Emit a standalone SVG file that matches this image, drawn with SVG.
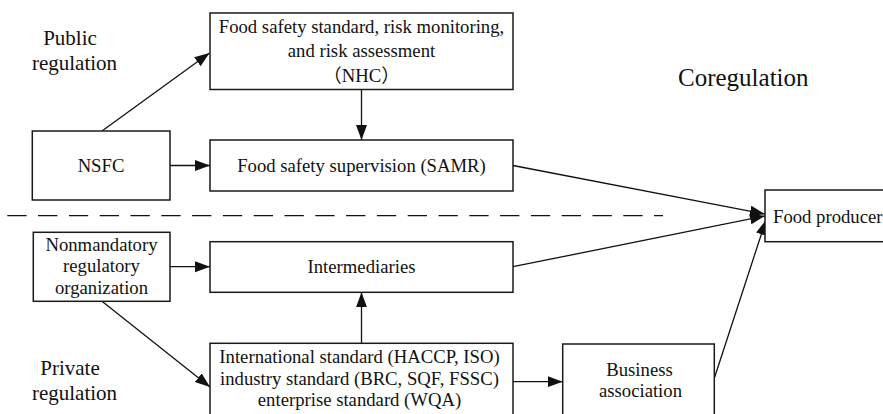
<svg xmlns="http://www.w3.org/2000/svg" width="883" height="414" viewBox="0 0 883 414">
<style>
  .box { fill: #ffffff; stroke: #1a1a1a; stroke-width: 1.5; }
  .t { font-size: 18.7px; fill: #111; text-anchor: middle; }
  .lbl { font-size: 21px; fill: #111; text-anchor: middle; }
  .co { font-size: 25px; fill: #111; }
  .edge { stroke: #111; stroke-width: 1.3; fill: none; marker-end: url(#arr); }
  .dash { stroke: #111; stroke-width: 1.3; fill: none; stroke-dasharray: 19.3 11.5; }
</style>
<defs>
  <marker id="arr" markerUnits="userSpaceOnUse" markerWidth="16" markerHeight="12" refX="15" refY="5.5" orient="auto">
    <path d="M0,0 L15,5.5 L0,11 z" fill="#111"/>
  </marker>
</defs>
<rect x="0" y="0" width="883" height="414" fill="#ffffff"/>

<g font-family="Liberation Serif, Times New Roman, DejaVu Serif, Noto Sans CJK SC, serif">
<g id="labels">
  <text class="lbl" x="70" y="45">Public</text>
  <text class="lbl" x="74.5" y="70">regulation</text>
  <text class="lbl" x="70" y="375">Private</text>
  <text class="lbl" x="74.5" y="400">regulation</text>
  <text class="co" x="678" y="86">Coregulation</text>
</g>

<line class="dash" x1="7.3" y1="215.7" x2="663" y2="215.7"/>

<g id="connectors">
  <line class="edge" x1="102.3" y1="130.7" x2="209.5" y2="53"/>
  <line class="edge" x1="361.5" y1="89.5" x2="361.5" y2="140"/>
  <line class="edge" x1="170" y1="165.5" x2="210" y2="165.5"/>
  <line class="edge" x1="513" y1="165.5" x2="765" y2="214"/>
  <line class="edge" x1="170" y1="266.7" x2="210" y2="266.7"/>
  <line class="edge" x1="361.5" y1="343.3" x2="361.5" y2="292.3"/>
  <line class="edge" x1="102.3" y1="301.5" x2="210" y2="387"/>
  <line class="edge" x1="513" y1="266.7" x2="765" y2="216"/>
  <line class="edge" x1="513" y1="381.7" x2="562.7" y2="381.7"/>
  <line class="edge" x1="714.3" y1="378.3" x2="766" y2="220"/>
</g>

<g id="nhc">
  <rect class="box" x="210" y="13" width="303" height="76.5"/>
  <text class="t" x="361.5" y="32.7">Food safety standard, risk monitoring,</text>
  <text class="t" x="361.5" y="57">and risk assessment</text>
  <text class="t" x="361.5" y="81.7">（NHC）</text>
</g>

<g id="nsfc">
  <rect class="box" x="32.3" y="131" width="137.7" height="69"/>
  <text class="t" x="101" y="171.7">NSFC</text>
</g>

<g id="samr">
  <rect class="box" x="210" y="140" width="303" height="51"/>
  <text class="t" x="361.5" y="171.5">Food safety supervision (SAMR)</text>
</g>

<g id="producer">
  <rect class="box" x="765" y="190" width="130" height="51.7"/>
  <text class="t" x="773" y="222.7" text-anchor="start" style="text-anchor:start">Food producer</text>
</g>

<g id="nonmandatory">
  <rect class="box" x="33.3" y="232.3" width="136.7" height="69"/>
  <text class="t" x="101.5" y="250.7">Nonmandatory</text>
  <text class="t" x="101.5" y="272">regulatory</text>
  <text class="t" x="101.5" y="294">organization</text>
</g>

<g id="intermediaries">
  <rect class="box" x="210" y="241.7" width="303" height="50.6"/>
  <text class="t" x="361.5" y="272.5">Intermediaries</text>
</g>

<g id="standards">
  <rect class="box" x="210" y="343.3" width="303" height="80"/>
  <text class="t" x="359.5" y="363.3">International standard (HACCP, ISO)</text>
  <text class="t" x="359.5" y="384.7">industry standard (BRC, SQF, FSSC)</text>
  <text class="t" x="359.5" y="406.3">enterprise standard (WQA)</text>
</g>

<g id="business">
  <rect class="box" x="562.7" y="344" width="151.6" height="80"/>
  <text class="t" x="639.5" y="375.5">Business</text>
  <text class="t" x="640.5" y="397">association</text>
</g>
</g>
</svg>
